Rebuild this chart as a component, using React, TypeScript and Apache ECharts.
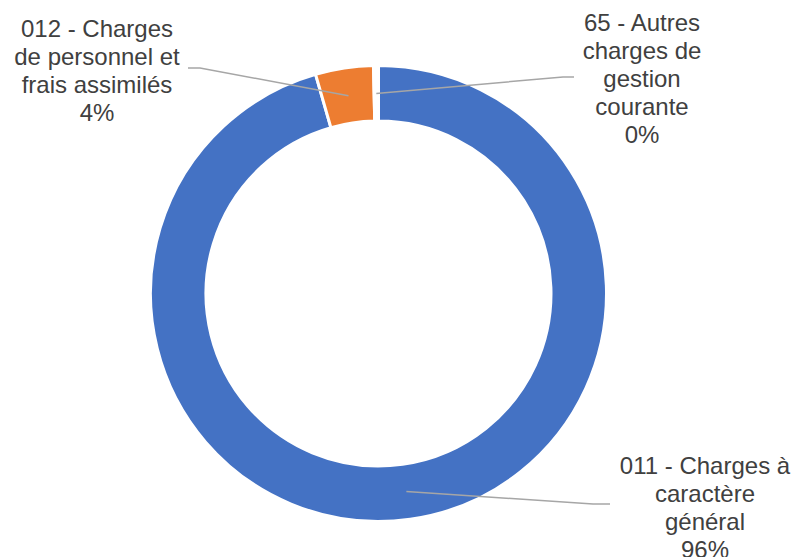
import React, { useEffect, useRef } from "react";
import * as echarts from "echarts";

const categories = [
  "011 - Charges à\ncaractère\ngénéral",
  "012 - Charges\nde personnel et\nfrais assimilés",
  "65 - Autres\ncharges de\ngestion\ncourante",
];
const values = [95.55, 4.1, 0.35];
const colors = ["#4472C4", "#ED7D31", "#FFFFFF"];

// label layout (positions of label blocks and leader-line bends)
const CX = 378.5;
const CY = 293.5;
const labelPos = [
  { x: 705, y: 507, bend: [593, 504], end: [610, 504] },
  { x: 97, y: 70, bend: [200, 68], end: [188, 68] },
  { x: 642, y: 78, bend: [563, 77], end: [574, 77] },
];

export default function App() {
  const ref = useRef<HTMLDivElement>(null);
  useEffect(() => {
    document.body.style.margin = "0";
    const chart = echarts.init(ref.current!, null, { renderer: "svg" });
    const total = values.reduce((a, b) => a + b, 0);
    const mids: number[] = [];
    let acc = 0;
    values.forEach((v) => {
      mids.push(((acc + v / 2) / total) * Math.PI * 2);
      acc += v;
    });
    const rMid = 200;
    const data = categories.map((name, i) => ({
      name,
      value: values[i],
      itemStyle: { color: colors[i] },
    }));
    chart.setOption({
      animation: false,
      backgroundColor: "#FFFFFF",
      series: [
        {
          type: "pie",
          z: 2,
          center: [CX, CY],
          radius: [172.5, 228],
          startAngle: 90,
          clockwise: true,
          avoidLabelOverlap: false,
          itemStyle: { borderColor: "#FFFFFF", borderWidth: 3 },
          label: { show: false },
          labelLine: { show: false },
          emphasis: { disabled: true },
          silent: true,
          data,
        },
        {
          type: "pie",
          z: 5,
          center: [CX, CY],
          radius: [172.5, 228],
          startAngle: 90,
          clockwise: true,
          avoidLabelOverlap: false,
          silent: true,
          itemStyle: { color: "rgba(0,0,0,0)", borderWidth: 0 },
          label: {
            show: true,
            position: "outside",
            color: "#404040",
            fontFamily: "Liberation Sans",
            fontSize: 24,
            lineHeight: 28,
            align: "center",
            formatter: (p: any) => `${p.name}\n${Math.round(p.percent)}%`,
          },
          labelLine: {
            show: true,
            length: 10,
            length2: 10,
            lineStyle: { color: "#A6A6A6", width: 1.5 },
          },
          emphasis: { disabled: true },
          labelLayout: (params: any) => {
            const i = params.dataIndex;
            const lp = labelPos[i];
            const a = mids[i];
            const ax = CX + rMid * Math.sin(a);
            const ay = CY - rMid * Math.cos(a);
            return {
              x: lp.x,
              y: lp.y,
              align: "center",
              verticalAlign: "middle",
              labelLinePoints: [[ax, ay], lp.bend, lp.end],
            };
          },
          data: categories.map((name, i) => ({
            name,
            value: values[i],
            itemStyle: { color: "rgba(0,0,0,0)" },
          })),
        },
      ],
    });
    return () => chart.dispose();
  }, []);
  return <div ref={ref} style={{ width: 795, height: 557 }} />;
}
